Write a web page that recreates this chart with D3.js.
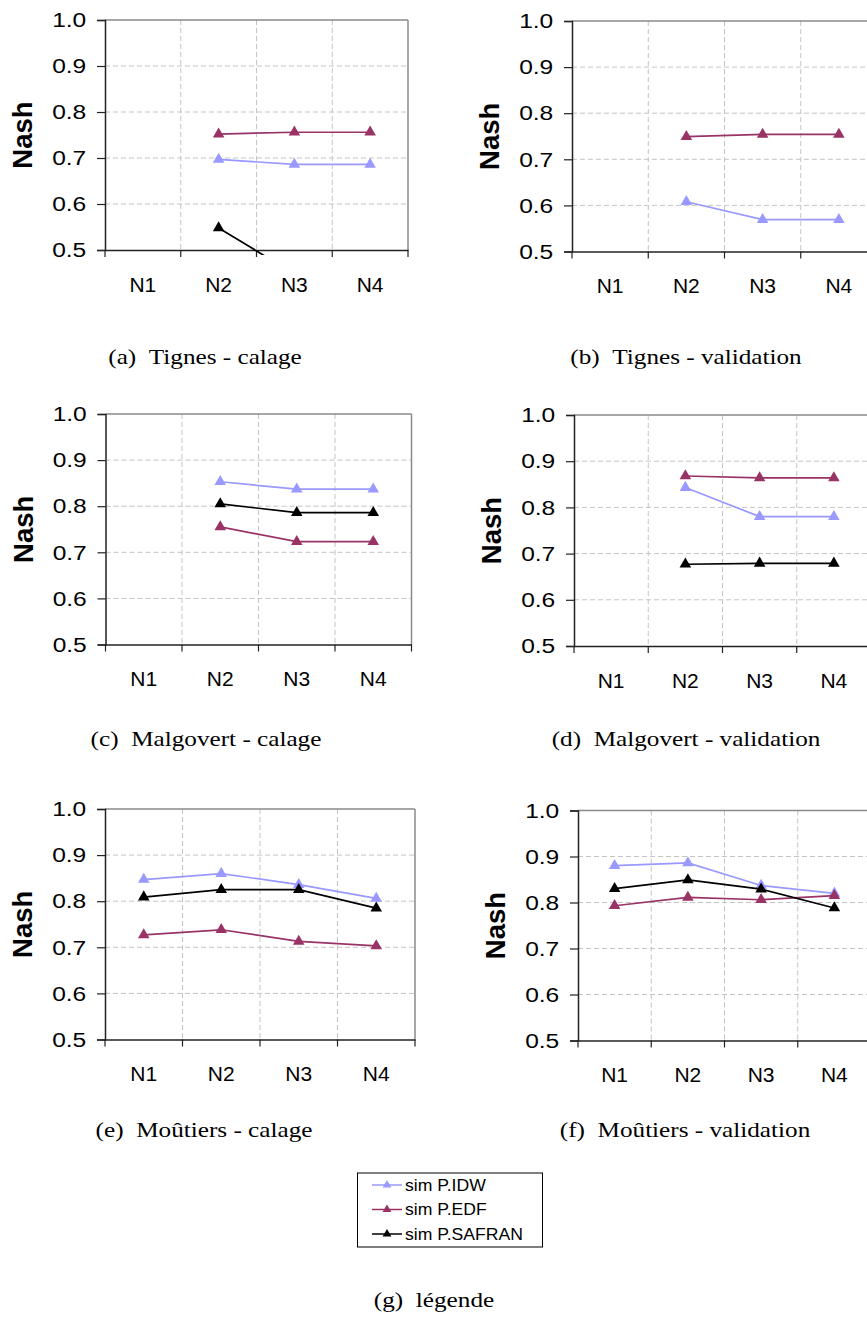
<!DOCTYPE html>
<html><head><meta charset="utf-8">
<script src="https://cdn.jsdelivr.net/npm/d3@7"></script>
<style>body{margin:0;background:#fff}svg{display:block}</style>
</head><body><svg id="c" width="867" height="1317"></svg>
<script>
// ---------- data ----------
const categories = ["N1", "N2", "N3", "N4"];
const yTicks = [0.5, 0.6, 0.7, 0.8, 0.9, 1.0];
const seriesNames = ["sim P.IDW", "sim P.EDF", "sim P.SAFRAN"];

const tignesCalageIDW    = [null, 0.697, 0.686, 0.686];
const tignesCalageEDF    = [null, 0.752, 0.756, 0.756];
const tignesCalageSAFRAN = [null, 0.548, 0.448, 0.448];

const tignesValidIDW     = [null, 0.608, 0.569, 0.569];
const tignesValidEDF     = [null, 0.749, 0.754, 0.754];
const tignesValidSAFRAN  = [null, null, null, null];

const malgovertCalageIDW    = [null, 0.853, 0.837, 0.837];
const malgovertCalageEDF    = [null, 0.755, 0.723, 0.723];
const malgovertCalageSAFRAN = [null, 0.805, 0.786, 0.786];

const malgovertValidIDW     = [null, 0.843, 0.780, 0.780];
const malgovertValidEDF     = [null, 0.868, 0.864, 0.864];
const malgovertValidSAFRAN  = [null, 0.677, 0.679, 0.679];

const moutiersCalageIDW    = [0.847, 0.860, 0.836, 0.806];
const moutiersCalageEDF    = [0.727, 0.738, 0.713, 0.703];
const moutiersCalageSAFRAN = [0.809, 0.825, 0.825, 0.785];

const moutiersValidIDW     = [0.880, 0.886, 0.837, 0.820];
const moutiersValidEDF     = [0.793, 0.811, 0.806, 0.815];
const moutiersValidSAFRAN  = [0.830, 0.849, 0.829, 0.788];

const captions = [
  "(a)\u2002Tignes - calage", "(b)\u2002Tignes - validation",
  "(c)\u2002Malgovert - calage", "(d)\u2002Malgovert - validation",
  "(e)\u2002Moûtiers - calage", "(f)\u2002Moûtiers - validation"
];
const legendCaption = "(g)\u2002légende";

// ---------- style ----------
const colors = ["#9999FF", "#993366", "#000000"];
const sansFont = "'Liberation Sans', Arial, sans-serif";
const serifFont = "'Liberation Serif', 'Times New Roman', serif";
const tickScale = 1.17, capScale = 1.2, legScale = 1.1;

const svg = d3.select("#c");

const panels = [
  {data:[tignesCalageIDW, tignesCalageEDF, tignesCalageSAFRAN], l:105, t:20, r:408, b:250, cap:captions[0], cx:205, cy:364},
  {data:[tignesValidIDW, tignesValidEDF, tignesValidSAFRAN], l:572, t:21, r:877, b:251.5, cap:captions[1], cx:686, cy:364},
  {data:[malgovertCalageIDW, malgovertCalageEDF, malgovertCalageSAFRAN], l:105.5, t:414, r:411.5, b:644.5, cap:captions[2], cx:206, cy:746},
  {data:[malgovertValidIDW, malgovertValidEDF, malgovertValidSAFRAN], l:574, t:415, r:871, b:646, cap:captions[3], cx:686, cy:746},
  {data:[moutiersCalageIDW, moutiersCalageEDF, moutiersCalageSAFRAN], l:105, t:809, r:415, b:1039.5, cap:captions[4], cx:204, cy:1137},
  {data:[moutiersValidIDW, moutiersValidEDF, moutiersValidSAFRAN], l:578, t:810.5, r:871, b:1040.5, cap:captions[5], cx:685, cy:1137}
];

const tri = d3.symbol().type(d3.symbolTriangle).size(58);

panels.forEach((p, pi) => {
  const g = svg.append("g");
  const x = d3.scaleBand().domain(categories).range([p.l, p.r]);
  const y = d3.scaleLinear().domain([0.5, 1.0]).range([p.b, p.t]);

  // grid
  g.selectAll(".hg").data(yTicks.filter(v => v > 0.5 && v < 1.0)).join("line")
    .attr("x1", p.l).attr("x2", p.r).attr("y1", d => y(d)).attr("y2", d => y(d))
    .attr("stroke", "#c4c4c4").attr("stroke-dasharray", "5,3");
  g.selectAll(".vg").data(categories.slice(1)).join("line")
    .attr("x1", d => x(d)).attr("x2", d => x(d)).attr("y1", p.t).attr("y2", p.b)
    .attr("stroke", "#c4c4c4").attr("stroke-dasharray", "5,3");

  // frame top/right
  g.append("line").attr("x1", p.l).attr("x2", p.r).attr("y1", p.t).attr("y2", p.t)
    .attr("stroke", "#8a8a8a").attr("stroke-width", 1.5);
  g.append("line").attr("x1", p.r).attr("x2", p.r).attr("y1", p.t).attr("y2", p.b)
    .attr("stroke", "#8a8a8a").attr("stroke-width", 1.5);

  // y axis
  const ya = g.append("g").attr("transform", `translate(${p.l},0)`)
    .call(d3.axisLeft(y).tickValues(yTicks).tickFormat(d3.format(".1f")).tickSize(8).tickPadding(8));
  ya.select(".domain").attr("stroke", "#222").attr("stroke-width", 1.5);
  ya.selectAll(".tick line").attr("stroke", "#222").attr("stroke-width", 1.2);
  ya.selectAll(".tick text").attr("font-family", sansFont).attr("font-size", 21).attr("fill", "#000")
    .attr("transform", `scale(${tickScale},1)`);

  // x axis
  const xa = g.append("g").attr("transform", `translate(0,${p.b})`)
    .call(d3.axisBottom(x).tickSize(0).tickPadding(27));
  xa.select(".domain").attr("stroke", "#222").attr("stroke-width", 1.5);
  xa.selectAll(".tick text").attr("font-family", sansFont).attr("font-size", 21).attr("fill", "#000");
  g.selectAll(".xt").data(categories.concat(["end"])).join("line")
    .attr("x1", (d, i) => p.l + i * x.step()).attr("x2", (d, i) => p.l + i * x.step())
    .attr("y1", p.b).attr("y2", p.b + 7).attr("stroke", "#222").attr("stroke-width", 1.2);

  // y label
  g.append("text").attr("transform", `translate(${p.l - 73},${(p.t + p.b) / 2}) rotate(-90)`)
    .attr("text-anchor", "middle").attr("font-family", sansFont).attr("font-weight", "bold")
    .attr("font-size", 27.5).text("Nash");

  // clip
  const cid = "clip" + pi;
  svg.append("clipPath").attr("id", cid).append("rect")
    .attr("x", p.l - 10).attr("y", p.t - 10).attr("width", p.r - p.l + 20).attr("height", p.b - p.t + 15);

  const plot = g.append("g").attr("clip-path", `url(#${cid})`);
  const line = d3.line().defined(d => d.v != null)
    .x(d => x(d.c) + x.bandwidth() / 2).y(d => y(d.v));

  p.data.forEach((vals, si) => {
    const pts = vals.map((v, i) => ({c: categories[i], v}));
    plot.append("path").attr("d", line(pts)).attr("fill", "none")
      .attr("stroke", colors[si]).attr("stroke-width", 1.7);
    plot.selectAll(null).data(pts.filter(d => d.v != null && d.v >= 0.5)).join("path")
      .attr("d", tri).attr("fill", colors[si])
      .attr("transform", d => `translate(${x(d.c) + x.bandwidth() / 2},${y(d.v)})`);
  });

  // caption
  svg.append("text").attr("transform", `translate(${p.cx},${p.cy}) scale(${capScale},1)`)
    .attr("text-anchor", "middle")
    .attr("font-family", serifFont).attr("font-size", 21).text(p.cap);
});

// legend
const lg = svg.append("g");
lg.append("rect").attr("x", 357.5).attr("y", 1173).attr("width", 185).attr("height", 74)
  .attr("fill", "#fff").attr("stroke", "#000").attr("stroke-width", 1);
const ly = d3.scalePoint().domain(seriesNames).range([1185, 1234]);
seriesNames.forEach((n, i) => {
  lg.append("line").attr("x1", 372).attr("x2", 402).attr("y1", ly(n)).attr("y2", ly(n))
    .attr("stroke", colors[i]).attr("stroke-width", 1.5);
  lg.append("path").attr("d", d3.symbol().type(d3.symbolTriangle).size(34))
    .attr("transform", `translate(387,${ly(n)})`).attr("fill", colors[i]);
  lg.append("text").attr("transform", `translate(405,${ly(n)}) scale(${legScale},1)`).attr("dy", "0.36em")
    .attr("font-family", sansFont).attr("font-size", 16).text(n);
});
svg.append("text").attr("transform", `translate(434,1307) scale(${capScale},1)`).attr("text-anchor", "middle")
  .attr("font-family", serifFont).attr("font-size", 21).text(legendCaption);
</script></body></html>
